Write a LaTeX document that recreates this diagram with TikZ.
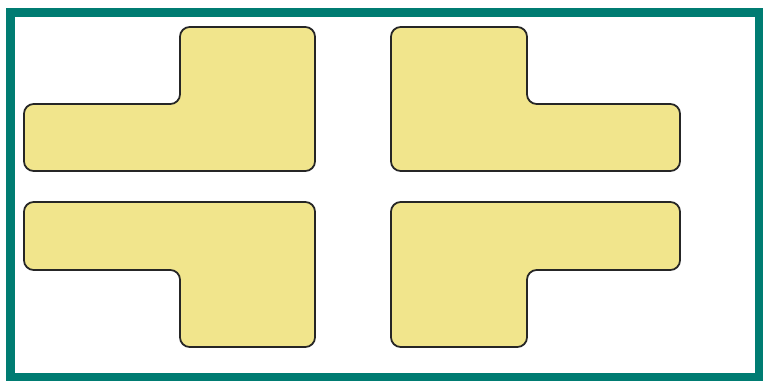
\documentclass[tikz,border=0pt]{standalone}
\usetikzlibrary{calc}
\definecolor{frameteal}{RGB}{0,124,114}
\definecolor{tileyellow}{RGB}{241,229,140}

\begin{document}
\begin{tikzpicture}[x=0.02cm,y=-0.02cm, tile/.style={draw=black!85, line width=1pt, fill=tileyellow, rounded corners=5.5pt}]
    \useasboundingbox (0,0) rectangle (765,386);
    % outer frame
    \draw[frameteal, line width=5pt] (10.5,12.5) rectangle (759,377);
    % top row
    \draw[tile] (180,27) -- (315,27) -- (315,171) -- (24,171) -- (24,104) -- (180,104) -- cycle;
    \draw[tile] (391,27) -- (527,27) -- (527,104) -- (680,104) -- (680,171) -- (391,171) -- cycle;
    % bottom row
    \draw[tile] (24,202) -- (315,202) -- (315,347) -- (180,347) -- (180,270) -- (24,270) -- cycle;
    \draw[tile] (391,202) -- (680,202) -- (680,270) -- (527,270) -- (527,347) -- (391,347) -- cycle;
\end{tikzpicture}
\end{document}
